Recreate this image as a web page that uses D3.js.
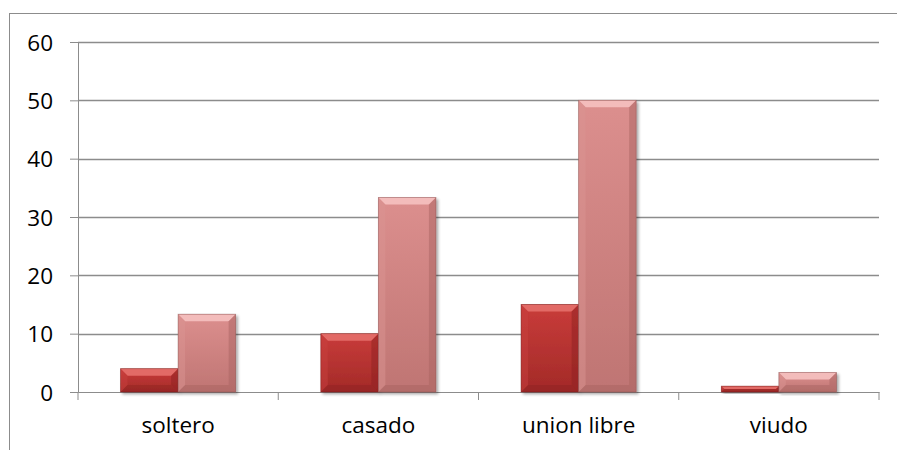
<!DOCTYPE html>
<html>
<head>
<meta charset="utf-8">
<script src="https://cdn.jsdelivr.net/npm/d3@7"></script>
<style>
  body { margin: 0; background: #fff; }
  text { font-family: "Open Sans", "Noto Sans", sans-serif; }
</style>
</head>
<body>
<div id="chart"></div>
<script>
// estado civil
const categories = ['soltero', 'casado', 'union libre', 'viudo'];
const frecuencia = [4, 10, 15, 1];
const porcentaje = [13.33, 33.33, 50, 3.33];
const yTicks = [0, 10, 20, 30, 40, 50, 60];

const width = 897, height = 450;
const margin = { top: 42, right: 18, bottom: 58, left: 78 };
const fontSize = '22.5px';

let svg = d3.select('#chart')
	.append('svg')
	.attr('width', width)
	.attr('height', height);

let defs = svg.append('defs');

// shadow under the bars
let shadow = defs.append('filter')
	.attr('id', 'shadow')
	.attr('x', '-20%').attr('y', '-20%')
	.attr('width', '140%').attr('height', '140%');
shadow.append('feGaussianBlur').attr('in', 'SourceAlpha').attr('stdDeviation', 1.5);
shadow.append('feOffset').attr('dx', 1.5).attr('dy', 1.5).attr('result', 'off');
shadow.append('feComponentTransfer').append('feFuncA').attr('type', 'linear').attr('slope', 0.35);
let merge = shadow.append('feMerge');
merge.append('feMergeNode');
merge.append('feMergeNode').attr('in', 'SourceGraphic');

const palettes = [
	{ id: 'dark', top: '#c93c3a', bottom: '#a32a28', bevTop: '#e26a66', bevLeft: '#c8403d', bevRight: '#8e2221', bevBottom: '#8a2220', stroke: '#7a1d1c' },
	{ id: 'light', top: '#dc8f8e', bottom: '#bf7573', bevTop: '#f3bcbb', bevLeft: '#d99392', bevRight: '#a96362', bevBottom: '#a25e5d', stroke: '#8e5352' }
];

palettes.forEach(p => {
	let g = defs.append('linearGradient')
		.attr('id', 'grad-' + p.id)
		.attr('x1', 0).attr('y1', 0).attr('x2', 0).attr('y2', 1);
	g.append('stop').attr('offset', '0%').attr('stop-color', p.top);
	g.append('stop').attr('offset', '100%').attr('stop-color', p.bottom);
});

// outer frame (right and bottom run off the picture)
svg.append('rect')
	.attr('x', 9.5)
	.attr('y', 13.5)
	.attr('width', 900)
	.attr('height', 460)
	.attr('fill', 'none')
	.attr('stroke', '#8c8c8c')
	.attr('stroke-width', 1);

let x = d3.scaleBand()
	.domain(categories)
	.range([margin.left, width - margin.right])
	.paddingInner(0)
	.paddingOuter(0);

let y = d3.scaleLinear()
	.domain([0, 60])
	.range([height - margin.bottom, margin.top]);

let sub = d3.scaleBand()
	.domain([0, 1])
	.range([0, x.bandwidth()])
	.paddingOuter(0.74)
	.paddingInner(0);

// gridlines + y axis
let yAxis = svg.append('g')
	.attr('transform', `translate(${margin.left},0)`)
	.call(d3.axisLeft(y).tickValues(yTicks).tickSize(8).tickPadding(17))
	.call(g => g.select('.domain').attr('stroke', '#8c8c8c'))
	.call(g => g.selectAll('.tick line').attr('stroke', '#8c8c8c'))
	.call(g => g.selectAll('.tick text').attr('font-size', fontSize).attr('fill', '#000')
		.attr('dy', '0.36em')
		.attr('font-family', '"Open Sans", "Noto Sans", sans-serif'));

svg.append('g')
	.selectAll('line')
	.data(yTicks.filter(d => d > 0))
	.join('line')
	.attr('x1', margin.left)
	.attr('x2', width - margin.right)
	.attr('y1', d => Math.round(y(d)) + 0.5)
	.attr('y2', d => Math.round(y(d)) + 0.5)
	.attr('stroke', '#8c8c8c')
	.attr('stroke-width', 1.3);

// x axis
let xAxis = svg.append('g')
	.attr('transform', `translate(0,${y(0)})`)
	.call(d3.axisBottom(x).tickSize(0).tickPadding(25))
	.call(g => g.select('.domain').attr('stroke', '#8c8c8c'))
	.call(g => g.selectAll('.tick text').attr('font-size', fontSize).attr('fill', '#000')
		.attr('font-family', '"Open Sans", "Noto Sans", sans-serif'));

let bounds = categories.map(c => x(c)).concat([x(categories[3]) + x.bandwidth()]);
xAxis.append('g')
	.selectAll('line')
	.data(bounds)
	.join('line')
	.attr('x1', d => d)
	.attr('x2', d => d)
	.attr('y1', 0)
	.attr('y2', 8)
	.attr('stroke', '#8c8c8c');

// bars
const series = [frecuencia, porcentaje];
let barData = [];
series.forEach((vals, s) => {
	vals.forEach((v, i) => {
		barData.push({ cat: categories[i], s: s, v: v });
	});
});

let bars = svg.append('g')
	.selectAll('g')
	.data(barData)
	.join('g')
	.attr('filter', 'url(#shadow)');

bars.each(function (d) {
	let g = d3.select(this);
	let p = palettes[d.s];
	let x0 = x(d.cat) + sub(d.s);
	let x1 = x0 + sub.bandwidth();
	let y0 = y(d.v);
	let y1 = y(0);
	let b = Math.min(7, (y1 - y0) / 2);

	g.append('rect')
		.attr('x', x0).attr('y', y0)
		.attr('width', x1 - x0).attr('height', y1 - y0)
		.attr('fill', `url(#grad-${p.id})`);

	let polys = [
		{ pts: [[x0, y0], [x1, y0], [x1 - b, y0 + b], [x0 + b, y0 + b]], fill: p.bevTop },
		{ pts: [[x0, y0], [x0 + b, y0 + b], [x0 + b, y1 - b], [x0, y1]], fill: p.bevLeft, op: 0.5 },
		{ pts: [[x1, y0], [x1 - b, y0 + b], [x1 - b, y1 - b], [x1, y1]], fill: p.bevRight, op: 0.5 },
		{ pts: [[x0, y1], [x0 + b, y1 - b], [x1 - b, y1 - b], [x1, y1]], fill: p.bevBottom, op: 0.4 }
	];
	g.selectAll('polygon')
		.data(polys)
		.join('polygon')
		.attr('points', q => q.pts.map(pt => pt.join(',')).join(' '))
		.attr('fill', q => q.fill)
		.attr('fill-opacity', q => q.op || 1);

	g.append('rect')
		.attr('x', x0).attr('y', y0)
		.attr('width', x1 - x0).attr('height', y1 - y0)
		.attr('fill', 'none')
		.attr('stroke', p.stroke)
		.attr('stroke-width', 0.8)
		.attr('stroke-opacity', 0.6);
});
</script>
</body>
</html>
